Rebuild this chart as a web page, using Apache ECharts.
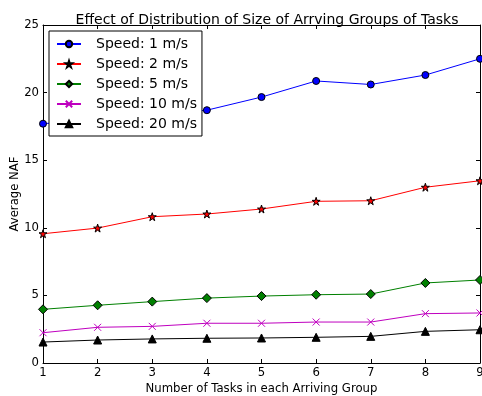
<!DOCTYPE html>
<html><head><meta charset="utf-8">
<script src="https://cdn.jsdelivr.net/npm/echarts@6/dist/echarts.min.js"></script>
<style>html,body{margin:0;padding:0;background:#fff}#c{width:482px;height:396px}</style>
</head><body><div id="c"></div>
<script>
const categories = [1, 2, 3, 4, 5, 6, 7, 8, 9];
const speed1 = [17.7, 18.0, 18.4, 18.7, 19.67, 20.86, 20.6, 21.3, 22.5];
const speed2 = [9.56, 9.98, 10.82, 11.02, 11.39, 11.96, 12.0, 13.0, 13.48];
const speed5 = [3.97, 4.27, 4.54, 4.8, 4.95, 5.05, 5.1, 5.92, 6.14];
const speed10 = [2.24, 2.64, 2.71, 2.94, 2.94, 3.03, 3.03, 3.65, 3.7];
const speed20 = [1.55, 1.7, 1.78, 1.83, 1.85, 1.9, 1.97, 2.34, 2.46];
const names = ['Speed: 1 m/s', 'Speed: 2 m/s', 'Speed: 5 m/s', 'Speed: 10 m/s', 'Speed: 20 m/s'];
const yTicks = [0, 5, 10, 15, 20, 25];

const font = 'DejaVu Sans';
const star = 'path://M0,-1L0.2245,-0.309L0.951,-0.309L0.363,0.118L0.588,0.809L0,0.382L-0.588,0.809L-0.363,0.118L-0.951,-0.309L-0.2245,-0.309Z';
const cross = 'path://M0,0L10,10M10,0L0,10';

function mk(name, vals, color, symbol, size, extra) {
  return Object.assign({
    name: name, type: 'line', xAxisIndex: 0, yAxisIndex: 0,
    data: categories.map((c, i) => [c, vals[i]]),
    symbol: symbol, symbolSize: size, showAllSymbol: true,
    lineStyle: { color: color, width: 1 },
    itemStyle: { color: color, borderColor: '#000', borderWidth: 1, opacity: 1 },
    emphasis: { disabled: true }, animation: false, clip: false, z: 3
  }, extra || {});
}

const chart = echarts.init(document.getElementById('c'), null, { renderer: 'canvas' });
const axisCommon = {
  axisLine: { show: true, onZero: false, lineStyle: { color: '#000', width: 1 } },
  axisTick: { show: true, inside: true, length: 4, lineStyle: { color: '#000' } },
  splitLine: { show: false }
};
chart.setOption({
  backgroundColor: '#fff',
  animation: false,
  title: {
    text: 'Effect of Distribution of Size of Arrving Groups of Tasks',
    left: 262, top: 8, textAlign: 'center',
    textStyle: { fontFamily: font, fontSize: 14, fontWeight: 'normal', color: '#000' }
  },
  legend: {
    data: names,
    orient: 'vertical', left: 49, top: 31,
    backgroundColor: '#fff', borderColor: '#000', borderWidth: 1, borderRadius: 0,
    padding: [5, 5, 4, 7], itemGap: 4, itemWidth: 24, itemHeight: 8,
    textStyle: { fontFamily: font, fontSize: 14, lineHeight: 16, color: '#000', padding: [0, 0, 0, 10] }
  },
  grid: { left: 43, right: 2, top: 25, bottom: 33, containLabel: false, outerBoundsMode: 'none' },
  xAxis: [
    Object.assign({
      type: 'value', min: 1, max: 9, interval: 1, position: 'bottom',
      name: 'Number of Tasks in each Arriving Group', nameLocation: 'middle', nameGap: 20,
      nameMoveOverlap: false,
      nameTextStyle: { fontFamily: font, fontSize: 11.7, color: '#000' },
      axisLabel: { fontFamily: font, fontSize: 11.7, color: '#000', margin: 4 }
    }, axisCommon),
    Object.assign({
      type: 'value', min: 1, max: 9, interval: 1, position: 'top',
      axisLabel: { show: false }
    }, axisCommon)
  ],
  yAxis: [
    Object.assign({
      type: 'value', min: 0, max: 25, interval: 5, position: 'left',
      name: 'Average NAF', nameLocation: 'middle', nameGap: 22, nameRotate: 90,
      nameMoveOverlap: false,
      nameTextStyle: { fontFamily: font, fontSize: 11.7, color: '#000' },
      axisLabel: { fontFamily: font, fontSize: 11.7, color: '#000', margin: 4,
        formatter: v => yTicks.includes(v) ? String(v) : '' }
    }, axisCommon),
    Object.assign({
      type: 'value', min: 0, max: 25, interval: 5, position: 'right',
      axisLabel: { show: false }
    }, axisCommon)
  ],
  series: [
    mk(names[0], speed1, '#0000ff', 'circle', 7),
    mk(names[1], speed2, '#ff0000', star, 8),
    mk(names[2], speed5, '#008000', 'diamond', 9),
    mk(names[3], speed10, '#bf00bf', cross, 7, { itemStyle: { color: '#bf00bf', borderColor: '#bf00bf', borderWidth: 1 } }),
    mk(names[4], speed20, '#000000', 'triangle', 8)
  ]
});
</script></body></html>
